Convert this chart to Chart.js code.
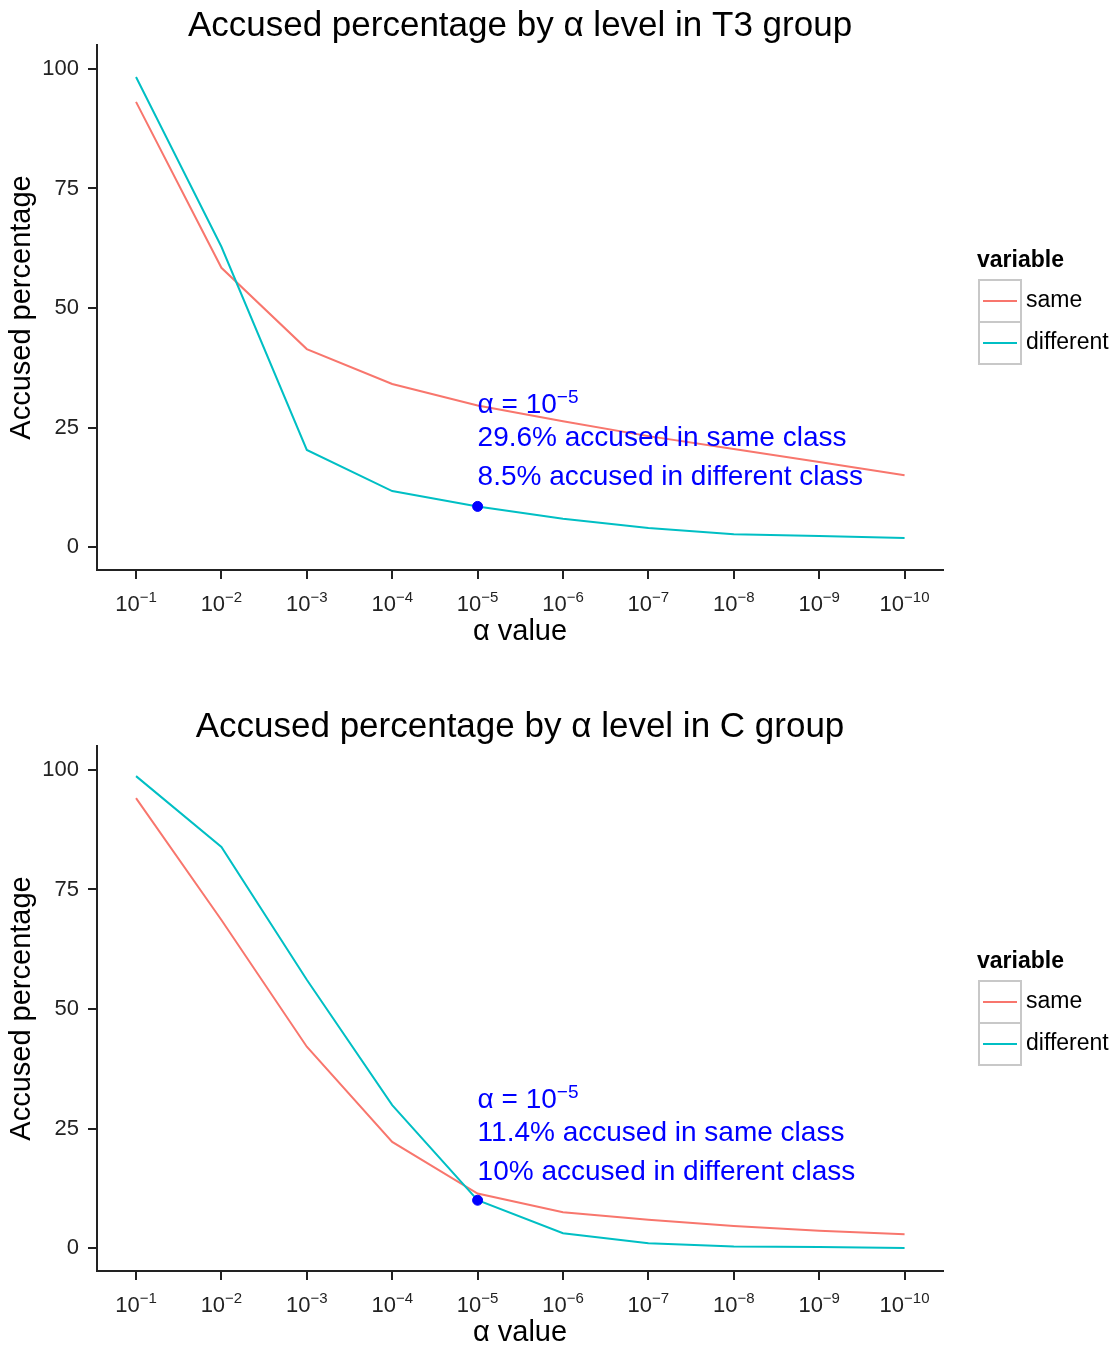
<!DOCTYPE html>
<html>
<head>
<meta charset="utf-8">
<script src="https://cdn.jsdelivr.net/npm/chart.js@4.4.1/dist/chart.umd.min.js"></script>
<style>
  html, body { margin: 0; padding: 0; overflow: hidden; background: #fff; }
  .box { position: absolute; left: 0; width: 1116px; height: 701px; }
</style>
</head>
<body>
<div class="box" style="top:0"><canvas id="chartT3" width="1116" height="701"></canvas></div>
<div class="box" style="top:701px"><canvas id="chartC" width="1116" height="701"></canvas></div>
<script>
// alpha levels are 10^-k, k below
const alphaExponents = [1, 2, 3, 4, 5, 6, 7, 8, 9, 10];
const seriesNames = ["same", "different"];

const t3Same = [93.1, 58.4, 41.4, 34.1, 29.6, 26.3, 23.2, 20.5, 17.8, 15.0];
const t3Different = [98.3, 62.8, 20.3, 11.7, 8.5, 5.9, 4.0, 2.7, 2.3, 1.9];

const cSame = [94.1, 68.6, 42.1, 22.2, 11.4, 7.5, 5.9, 4.6, 3.6, 2.9];
const cDifferent = [98.7, 83.9, 56.1, 29.9, 10.0, 3.1, 1.0, 0.3, 0.2, 0.0];

const markedExponent = 5;
const t3Notes = ["29.6% accused in same class", "8.5% accused in different class"];
const cNotes = ["11.4% accused in same class", "10% accused in different class"];

const FONT = "'Liberation Sans', Arial, Helvetica, sans-serif";
const colSame = "#F8766D";
const colDiff = "#00BFC4";

Chart.defaults.font.family = FONT;
Chart.defaults.color = "#222";

function toPoints(values) {
  return values.map((v, i) => ({ x: i + 1, y: v }));
}

// draws "10" with a raised exponent, centred or left aligned
function drawPower(ctx, x, y, exp, size, supSize, raise, align) {
  ctx.font = size + "px " + FONT;
  const w1 = ctx.measureText("10").width;
  ctx.font = supSize + "px " + FONT;
  const sup = "\u2212" + exp;
  const w2 = ctx.measureText(sup).width;
  let x0 = align === "center" ? x - (w1 + w2) / 2 : x;
  ctx.textAlign = "left";
  ctx.textBaseline = "alphabetic";
  ctx.font = size + "px " + FONT;
  ctx.fillText("10", x0, y);
  ctx.font = supSize + "px " + FONT;
  ctx.fillText(sup, x0 + w1, y - raise);
}

const extrasPlugin = {
  id: "extras",
  afterDraw(chart, args, opts) {
    const ctx = chart.ctx;
    const xs = chart.scales.x;
    const ys = chart.scales.y;
    ctx.save();

    // title, centred over the plot panel
    ctx.fillStyle = "#000";
    ctx.font = "35px " + FONT;
    ctx.textAlign = "center";
    ctx.textBaseline = "middle";
    ctx.fillText(opts.title, (xs.left + xs.right) / 2, 26);

    // x tick labels with superscripts
    ctx.fillStyle = "#222";
    xs.ticks.forEach((t) => {
      const k = alphaExponents[t.value - 1];
      drawPower(ctx, xs.getPixelForValue(t.value), 611, k, 22, 15, 9, "center");
    });

    // annotation
    ctx.fillStyle = "#0000FF";
    const ax = xs.getPixelForValue(markedExponent);
    const ay = ys.getPixelForValue(opts.noteAt);
    ctx.font = "28px " + FONT;
    ctx.textAlign = "left";
    ctx.textBaseline = "alphabetic";
    const pre = "\u03B1 = ";
    ctx.fillText(pre, ax, ay);
    const wp = ctx.measureText(pre).width;
    drawPower(ctx, ax + wp, ay, markedExponent, 28, 19, 10, "left");
    ctx.font = "28px " + FONT;
    ctx.fillText(opts.notes[0], ax, ay + 33);
    ctx.fillText(opts.notes[1], ax, ay + 72);

    // legend
    const lx = 979, ly = 280, ks = 42;
    ctx.fillStyle = "#000";
    ctx.font = "bold 23px " + FONT;
    ctx.textBaseline = "middle";
    ctx.fillText("variable", 977, 261);
    ctx.font = "23px " + FONT;
    [colSame, colDiff].forEach((c, i) => {
      const top = ly + i * ks;
      ctx.strokeStyle = "#c8c8c8";
      ctx.lineWidth = 2;
      ctx.strokeRect(lx, top, ks, ks);
      ctx.strokeStyle = c;
      ctx.lineWidth = 2;
      ctx.beginPath();
      ctx.moveTo(lx + 4, top + ks / 2);
      ctx.lineTo(lx + ks - 4, top + ks / 2);
      ctx.stroke();
      ctx.fillStyle = "#000";
      ctx.fillText(seriesNames[i], lx + ks + 5, top + ks / 2);
    });
    ctx.restore();
  },
};

function makeChart(id, title, same, diff, notes, noteAt) {
  const ctx = document.getElementById(id).getContext("2d");
  return new Chart(ctx, {
    type: "line",
    data: {
      datasets: [
        {
          label: "marked",
          type: "scatter",
          data: [{ x: markedExponent, y: diff[markedExponent - 1] }],
          backgroundColor: "#0000FF",
          borderColor: "#0000FF",
          pointRadius: 5,
          showLine: false,
          order: 0,
        },
        {
          label: seriesNames[1],
          data: toPoints(diff),
          borderColor: colDiff,
          borderWidth: 2,
          pointRadius: 0,
          tension: 0,
          order: 1,
        },
        {
          label: seriesNames[0],
          data: toPoints(same),
          borderColor: colSame,
          borderWidth: 2,
          pointRadius: 0,
          tension: 0,
          order: 2,
        },
      ],
    },
    options: {
      responsive: false,
      animation: false,
      layout: { padding: { left: 0, right: 173, top: 45, bottom: 0 } },
      plugins: {
        legend: { display: false },
        tooltip: { enabled: false },
        title: { display: false },
        extras: { title: title, notes: notes, noteAt: noteAt },
      },
      scales: {
        x: {
          type: "linear",
          min: 0.543,
          max: 10.45,
          afterFit: (s) => { s.height = 131; },
          ticks: { stepSize: 1, includeBounds: false, display: false },
          grid: { drawOnChartArea: false, drawTicks: true, tickLength: 9, color: "#222", lineWidth: 2 },
          border: { display: true, color: "#222", width: 2 },
          title: {
            display: true,
            text: "\u03B1 value",
            color: "#000",
            font: { size: 29 },
            padding: { top: 0, bottom: 51.6 },
          },
        },
        y: {
          min: -4.8,
          max: 105,
          afterFit: (s) => { s.width = 97; },
          ticks: { stepSize: 25, includeBounds: false, font: { size: 22 }, color: "#222", padding: 9 },
          grid: { drawOnChartArea: false, drawTicks: true, tickLength: 9, color: "#222", lineWidth: 2 },
          border: { display: true, color: "#222", width: 2 },
          title: {
            display: true,
            text: "Accused percentage",
            color: "#000",
            font: { size: 29 },
            padding: { top: 4.6, bottom: 0 },
          },
        },
      },
    },
    plugins: [extrasPlugin],
  });
}

makeChart("chartT3", "Accused percentage by \u03B1 level in T3 group", t3Same, t3Different, t3Notes, 28.0);
makeChart("chartC", "Accused percentage by \u03B1 level in C group", cSame, cDifferent, cNotes, 29.3);
</script>
</body>
</html>
